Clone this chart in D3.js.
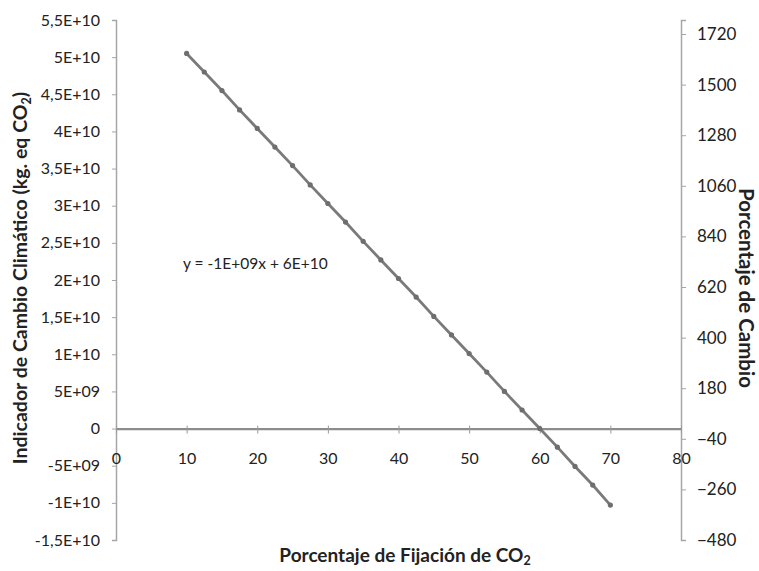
<!DOCTYPE html>
<html><head><meta charset="utf-8">
<script src="https://cdn.jsdelivr.net/npm/d3@7"></script>
<style>body{margin:0;background:#fff;} text{font-family:Lato, "Noto Sans", sans-serif;fill:#222;}</style>
</head><body><svg id="c" width="759" height="571"></svg>
<script>
const xValues = [10,12.5,15,17.5,20,22.5,25,27.5,30,32.5,35,37.5,40,42.5,45,47.5,50,52.5,55,57.5,60,62.5,65,67.5,70];
const indicador = [5.05e10,4.80e10,4.55e10,4.29e10,4.04e10,3.79e10,3.54e10,3.28e10,3.03e10,2.78e10,2.52e10,2.27e10,2.02e10,1.77e10,1.51e10,1.26e10,1.01e10,0.76e10,0.50e10,0.25e10,0,-0.25e10,-0.51e10,-0.76e10,-1.03e10];
const xTicks = [0,10,20,30,40,50,60,70,80];
const leftTicks = [5.5e10,5e10,4.5e10,4e10,3.5e10,3e10,2.5e10,2e10,1.5e10,1e10,5e9,0,-5e9,-1e10,-1.5e10];
const leftTickLabels = ["5,5E+10","5E+10","4,5E+10","4E+10","3,5E+10","3E+10","2,5E+10","2E+10","1,5E+10","1E+10","5E+09","0","-5E+09","-1E+10","-1,5E+10"];
const rightTicks = [1720,1500,1280,1060,840,620,400,180,-40,-260,-480];
const equation = "y = -1E+09x + 6E+10";

const svg = d3.select("#c");
const x = d3.scaleLinear().domain([0,80]).range([116,681]);
const yL = d3.scaleLinear().domain([-1.5e10,5.5e10]).range([540,20]);
const yR = d3.scaleLinear().domain([-480,1781]).range([540,20]);
const axisCol = "#a6a6a6";

// left axis
const gl = svg.append("g").attr("transform","translate(116,0)")
  .call(d3.axisLeft(yL).tickValues(leftTicks).tickSize(4).tickPadding(12).tickFormat((d,i)=>leftTickLabels[i]));
gl.select(".domain").attr("stroke",axisCol).attr("stroke-width",1.5);
gl.selectAll(".tick line").attr("stroke",axisCol);
gl.selectAll(".tick text").style("font-size","16px").attr("fill","#222");

// right axis
const gr = svg.append("g").attr("transform","translate(681,0)")
  .call(d3.axisRight(yR).tickValues(rightTicks).tickSize(5).tickPadding(11).tickFormat(d3.format("d")));
gr.select(".domain").attr("stroke",axisCol).attr("stroke-width",1.5);
gr.selectAll(".tick line").attr("stroke",axisCol);
gr.selectAll(".tick text").style("font-size","17px").attr("fill","#222");

// x axis at zero
const y0 = yL(0);
const gx = svg.append("g").attr("transform",`translate(0,${y0})`)
  .call(d3.axisBottom(x).tickValues(xTicks).tickSize(0).tickPadding(24));
gx.select(".domain").attr("stroke","#8c8c8c").attr("stroke-width",2.2);
gx.selectAll(".tick text").style("font-size","16px").attr("fill","#222");
gx.selectAll(".tick").append("line").attr("y1",-3).attr("y2",5).attr("stroke","#9a9a9a");

// series
const pts = xValues.map((v,i)=>[v,indicador[i]]);
svg.append("path").datum(pts)
  .attr("fill","none").attr("stroke","#7a7a7a").attr("stroke-width",2.8)
  .attr("d", d3.line().x(d=>x(d[0])).y(d=>yL(d[1])));
svg.append("g").selectAll("circle").data(pts).join("circle")
  .attr("cx",d=>x(d[0])).attr("cy",d=>yL(d[1])).attr("r",2.6).attr("fill","#6e6e6e");

// equation
svg.append("text").attr("x",183).attr("y",269).style("font-size","15.5px").text(equation);

// titles
const lt = svg.append("text").attr("transform","translate(27,278) rotate(-90)").attr("text-anchor","middle")
  .style("font-size","19.5px").style("font-weight","bold");
lt.append("tspan").text("Indicador de Cambio Climático (kg. eq CO");
lt.append("tspan").attr("dy",4).style("font-size","12.5px").text("2");
lt.append("tspan").attr("dy",-4).text(")");

svg.append("text").attr("transform","translate(739,288) rotate(90)").attr("text-anchor","middle")
  .style("font-size","20.5px").style("font-weight","bold").text("Porcentaje de Cambio");

const xt = svg.append("text").attr("x",405).attr("y",562).attr("text-anchor","middle")
  .style("font-size","19px").style("font-weight","bold");
xt.append("tspan").text("Porcentaje de Fijación de CO");
xt.append("tspan").attr("dy",3).style("font-size","12.5px").text("2");
</script></body></html>
